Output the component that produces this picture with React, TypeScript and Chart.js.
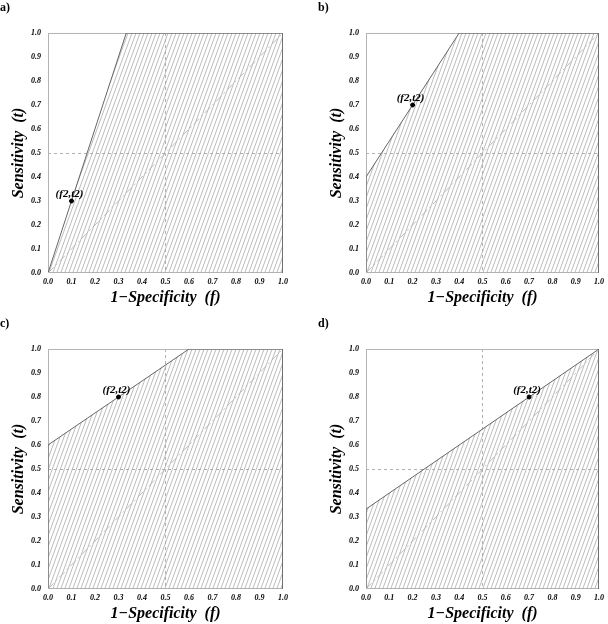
import React, { useEffect, useRef } from "react";
import { Chart, registerables } from "chart.js";

Chart.register(...registerables);

// ---- data ----
const panelLabels = ["a)", "b)", "c)", "d)"];
const xTitle = "1\u2212Specificity  (f)";
const yTitle = "Sensitivity  (t)";
const tickValues = [0, 0.1, 0.2, 0.3, 0.4, 0.5, 0.6, 0.7, 0.8, 0.9, 1.0];
const pointName = "(f2,t2)";
const pointF = [0.1, 0.2, 0.3, 0.7];
const pointT = [0.3, 0.7, 0.8, 0.8];

// boundary of the hatched region for each panel (vertices)
const edgeFA = [0, 0.333, 1, 1];
const edgeTA = [0, 1, 1, 0];
const edgeFB = [0, 0, 0.4, 1, 1];
const edgeTB = [0, 0.4, 1, 1, 0];
const edgeFC = [0, 0, 0.6, 1, 1];
const edgeTC = [0, 0.6, 1, 1, 0];
const edgeFD = [0, 0, 1, 1];
const edgeTD = [0, 0.333, 1, 0];
const chanceF = [0, 1];
const chanceT = [0, 1];

const edgesF = [edgeFA, edgeFB, edgeFC, edgeFD];
const edgesT = [edgeTA, edgeTB, edgeTC, edgeTD];

const FAMILY = "'Liberation Serif', 'DejaVu Serif', serif";

function makeHatch(): CanvasPattern | string {
  const c = document.createElement("canvas");
  c.width = 4;
  c.height = 11;
  const g = c.getContext("2d");
  if (!g) return "#ccc";
  g.strokeStyle = "#ababab";
  g.lineWidth = 0.8;
  for (const dx of [-4, 0, 4]) {
    g.beginPath();
    g.moveTo(dx - 1, 11 + 2.75);
    g.lineTo(dx + 5, -2.75);
    g.stroke();
  }
  return g.createPattern(c, "repeat") || "#ccc";
}

function Panel({ i }: { i: number }) {
  const ref = useRef<HTMLCanvasElement | null>(null);
  const left = (i % 2) * 318;
  const top = Math.floor(i / 2) * 316;
  const width = i % 2 ? 290 : 292;
  const height = 308;

  useEffect(() => {
    if (!ref.current) return;
    const pts = (fs: number[], ts: number[]) => fs.map((f, k) => ({ x: f, y: ts[k] }));
    const tickFont = { family: FAMILY, size: 8, weight: "bold" as const, style: "italic" as const };
    const titleFont = { family: FAMILY, size: 16, weight: "bold" as const, style: "italic" as const };
    const gridColor = (c: any) =>
      c.tick && Math.abs(c.tick.value - 0.5) < 1e-6 ? "#b0b0b0" : "rgba(0,0,0,0)";

    const decor = {
      id: "decor" + i,
      beforeDatasetsDraw(chart: any) {
        const { ctx, chartArea: a } = chart;
        ctx.save();
        ctx.strokeStyle = "#b4b4b4";
        ctx.lineWidth = 1;
        ctx.strokeRect(a.left + 0.5, a.top + 0.5, a.width - 1, a.height - 1);
        ctx.restore();
      },
      afterDatasetsDraw(chart: any) {
        const { ctx } = chart;
        const el = chart.getDatasetMeta(0).data[0];
        if (!el) return;
        ctx.save();
        ctx.fillStyle = "#000";
        ctx.font = "italic bold 11px " + FAMILY;
        ctx.textAlign = "center";
        ctx.textBaseline = "bottom";
        ctx.fillText(pointName, el.x - 2, el.y - 1);
        ctx.restore();
      },
    };

    const chart = new Chart(ref.current, {
      type: "scatter",
      data: {
        datasets: [
          {
            data: [{ x: pointF[i], y: pointT[i] }],
            pointRadius: 2,
            pointBackgroundColor: "#000",
            pointBorderColor: "#000",
            showLine: false,
          },
          {
            data: pts(chanceF, chanceT),
            showLine: true,
            pointRadius: 0,
            borderColor: "#bcbcbc",
            borderWidth: 1,
            borderDash: [8, 3, 2, 3],
            fill: false,
          },
          {
            data: pts(edgesF[i], edgesT[i]),
            showLine: true,
            pointRadius: 0,
            borderColor: "#666",
            borderWidth: 1,
            backgroundColor: makeHatch() as any,
            fill: "start",
            tension: 0,
          },
        ],
      },
      options: {
        responsive: false,
        animation: false,
        events: [],
        layout: { padding: { top: 33, left: 0, right: 5, bottom: 0 } },
        plugins: { legend: { display: false }, tooltip: { enabled: false } },
        scales: {
          x: {
            type: "linear",
            min: 0,
            max: 1,
            afterFit: (s: any) => {
              s.height = 35;
            },
            afterBuildTicks: (s: any) => {
              s.ticks = tickValues.map((v) => ({ value: v }));
            },
            ticks: {
              autoSkip: false,
              maxRotation: 0,
              padding: 4,
              color: "#000",
              font: tickFont,
              callback: (v: any) => Number(v).toFixed(1),
            },
            grid: { drawTicks: false, color: gridColor, lineWidth: 1 },
            border: { display: false, dash: [3, 3] },
            title: {
              display: true,
              text: xTitle,
              color: "#000",
              font: titleFont,
              padding: { top: 0, bottom: 1 },
            },
          },
          y: {
            type: "linear",
            min: 0,
            max: 1,
            afterFit: (s: any) => {
              s.width = 48;
            },
            afterBuildTicks: (s: any) => {
              s.ticks = tickValues.map((v) => ({ value: v }));
            },
            ticks: {
              autoSkip: false,
              padding: 7,
              color: "#000",
              font: tickFont,
              callback: (v: any) => Number(v).toFixed(1),
            },
            grid: { drawTicks: false, color: gridColor, lineWidth: 1 },
            border: { display: false, dash: [3, 3] },
            title: {
              display: true,
              text: yTitle,
              color: "#000",
              font: titleFont,
              padding: { top: 9, bottom: 0 },
            },
          },
        },
      } as any,
      plugins: [decor],
    });
    return () => chart.destroy();
  }, [i]);

  return (
    <>
      <canvas
        ref={ref}
        width={width}
        height={height}
        style={{ position: "absolute", left, top, width, height }}
      />
      <div
        style={{
          position: "absolute",
          left: left,
          top: top + 1,
          fontFamily: FAMILY,
          fontWeight: "bold",
          fontSize: 12,
          lineHeight: "12px",
          color: "#000",
        }}
      >
        {panelLabels[i]}
      </div>
    </>
  );
}

export default function App() {
  return (
    <div
      style={{
        position: "absolute",
        left: 0,
        top: 0,
        width: 608,
        height: 624,
        background: "#fff",
        overflow: "hidden",
      }}
    >
      {[0, 1, 2, 3].map((i) => (
        <Panel key={i} i={i} />
      ))}
    </div>
  );
}
